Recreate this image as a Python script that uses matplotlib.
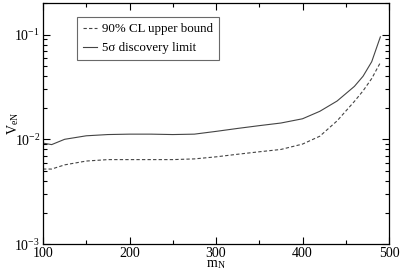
import matplotlib
matplotlib.use("Agg")
import matplotlib.pyplot as plt
from matplotlib.ticker import MultipleLocator, LogLocator

plt.rcParams['font.family'] = 'serif'
plt.rcParams['font.serif'] = ['Liberation Serif', 'DejaVu Serif']
plt.rcParams['mathtext.fontset'] = 'stix'

# masses and limits
m_N = [100, 110, 125, 150, 175, 200, 225, 250, 275, 300,
       325, 350, 375, 400, 420, 440, 460, 470, 480, 490]
upper_90cl = [0.0052, 0.0052, 0.0057, 0.0062, 0.0064, 0.0064, 0.0064, 0.0064, 0.0065, 0.0068,
              0.0072, 0.0076, 0.0080, 0.0090, 0.0107, 0.0150, 0.0230, 0.0290, 0.0380, 0.0540]
discovery_5s = [0.0092, 0.0089, 0.0100, 0.0108, 0.0111, 0.0112, 0.0112, 0.0111, 0.0112, 0.0119,
                0.0127, 0.0135, 0.0143, 0.0157, 0.0185, 0.0232, 0.0320, 0.0400, 0.0550, 0.0950]

fig = plt.figure(figsize=(4.0, 2.73), dpi=100)
ax = fig.add_axes([0.1075, 0.106, 0.865, 0.883])

ax.plot(m_N, upper_90cl, color='#444444', lw=0.8, ls=(0, (3, 2)), label='90% CL upper bound')
ax.plot(m_N, discovery_5s, color='#444444', lw=0.8, label='5σ discovery limit')

ax.set_yscale('log')
ax.set_xlim(100, 500)
ax.set_ylim(1e-3, 0.2)
ax.xaxis.set_major_locator(MultipleLocator(100))
ax.xaxis.set_minor_locator(MultipleLocator(50))
ax.yaxis.set_major_locator(LogLocator(base=10))
ax.yaxis.set_minor_locator(LogLocator(base=10, subs=range(2, 10)))

ax.tick_params(which='both', direction='in', top=True, right=True, labelsize=10, pad=2)
ax.tick_params(which='major', length=5, width=0.8)
ax.tick_params(which='minor', length=3, width=0.8)
for s in ax.spines.values():
    s.set_linewidth(0.9)

ax.set_xlabel(r'm$_\mathregular{N}$', fontsize=10, labelpad=-1)
ax.set_ylabel(r'V$_\mathregular{eN}$', fontsize=10)
ax.yaxis.set_label_coords(-0.065, 0.5)

leg = ax.legend(loc='upper left', bbox_to_anchor=(0.098, 0.94), borderaxespad=0,
                fontsize=9.3, frameon=True, fancybox=False, edgecolor='#444444',
                handlelength=1.1, handletextpad=0.4, borderpad=0.45, labelspacing=0.55)
leg.get_frame().set_linewidth(0.8)

fig.savefig('out.png', dpi=100)
